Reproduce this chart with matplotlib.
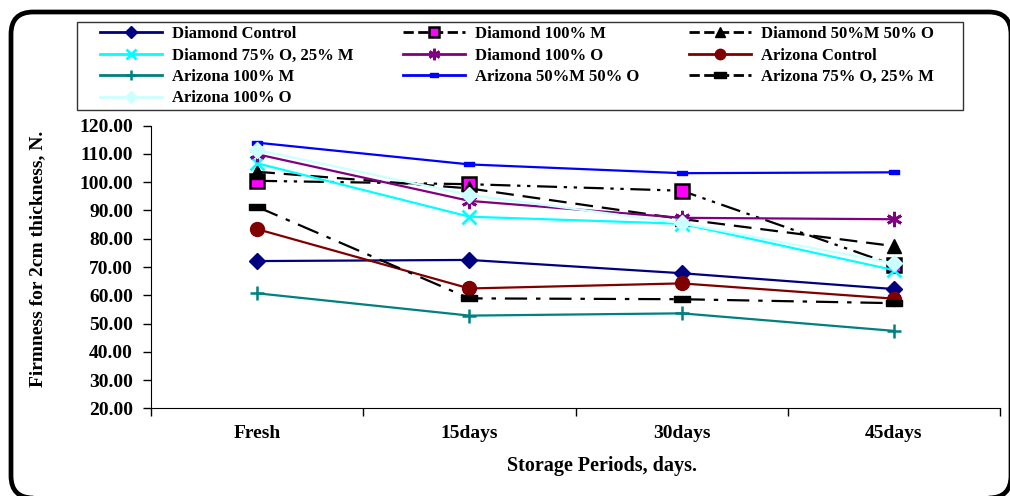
import matplotlib
matplotlib.use("Agg")
import matplotlib.pyplot as plt
from matplotlib.patches import FancyBboxPatch, Rectangle
from matplotlib.lines import Line2D

plt.rcParams['font.family'] = ['Liberation Serif', 'DejaVu Serif']
plt.rcParams['font.weight'] = 'bold'

periods = ['Fresh', '15days', '30days', '45days']
y_ticks = [20, 30, 40, 50, 60, 70, 80, 90, 100, 110, 120]

diamond_control = [72.1, 72.5, 67.8, 62.2]
diamond_100m = [100.5, 99.3, 97.0, 70.7]
diamond_50m_50o = [103.7, 97.8, 87.0, 77.4]
diamond_75o_25m = [106.7, 87.8, 85.3, 68.9]
diamond_100o = [109.9, 93.4, 87.4, 86.9]
arizona_control = [83.4, 62.4, 64.2, 58.8]
arizona_100m = [60.7, 52.8, 53.6, 47.4]
arizona_50m_50o = [114.0, 106.3, 103.2, 103.5]
arizona_75o_25m = [91.3, 58.9, 58.6, 57.2]
arizona_100o = [111.4, 95.5, 85.5, 71.3]

dash_marker = [(-1, -0.45), (1, -0.45), (1, 0.45), (-1, 0.45), (-1, -0.45)]

W, H = 1010, 496
fig = plt.figure(figsize=(W / 100, H / 100), dpi=100)

# rounded outer frame like the office chart area
frame = FancyBboxPatch((11 / W, 1 - 498 / H), (1000 / W), (486 / H),
                       boxstyle="round,pad=0,rounding_size=0.022",
                       transform=fig.transFigure, facecolor='none',
                       edgecolor='black', linewidth=3.4, clip_on=False,
                       mutation_aspect=W / H)
fig.patches.append(frame)

ax = fig.add_axes([151 / W, 1 - 408.3 / H, (1000 - 151) / W, (408.3 - 125.7) / H])
x = list(range(len(periods)))

series = [
    ('Diamond Control', diamond_control, dict(color='#000080', ls='-', marker='D', ms=8, mfc='#000080', mec='#000080')),
    ('Diamond 100% M', diamond_100m, dict(color='black', ls=(0, (9, 3, 1.5, 3, 1.5, 3)), marker='s', ms=10, mfc='#FF00FF', mec='black', mew=1.8)),
    ('Diamond 50%M 50% O', diamond_50m_50o, dict(color='black', ls=(0, (8, 4)), marker='^', ms=10, mfc='black', mec='black')),
    ('Diamond 75% O, 25% M', diamond_75o_25m, dict(color='#00FFFF', ls='-', marker='x', ms=10, mec='#00FFFF', mew=2)),
    ('Diamond 100% O', diamond_100o, dict(color='#800080', ls='-', marker=(6, 2, 0), ms=11, mec='#800080', mew=2)),
    ('Arizona Control', arizona_control, dict(color='#800000', ls='-', marker='o', ms=10, mfc='#800000', mec='#800000')),
    ('Arizona 100% M', arizona_100m, dict(color='#008080', ls='-', marker='+', ms=10, mec='#008080', mew=1.8)),
    ('Arizona 50%M 50% O', arizona_50m_50o, dict(color='#0000FF', ls='-', marker=dash_marker, ms=7, mfc='#0000FF', mec='#0000FF')),
    ('Arizona 75% O, 25% M', arizona_75o_25m, dict(color='black', ls=(0, (10, 4, 2, 4)), marker=dash_marker, ms=11, mfc='black', mec='black')),
    ('Arizona 100% O', arizona_100o, dict(color='#CCFFFF', ls='-', marker='D', ms=8, mfc='#CCFFFF', mec='#CCFFFF')),
]

handles = {}
for label, vals, style in series:
    line, = ax.plot(x, vals, lw=1.6, label=label, clip_on=False, **style)
    handles[label] = line

ax.set_xlim(-0.5, 3.5)
ax.set_ylim(20, 120)
ax.set_yticks(y_ticks)
ax.set_yticklabels(['{:.2f}'.format(v) for v in y_ticks])
ax.set_xticks(x)
ax.set_xticklabels(periods)
ax.set_xticks([-0.5, 0.5, 1.5, 2.5, 3.5], minor=True)
ax.tick_params(axis='x', which='major', length=0, pad=12, labelsize=14)
ax.tick_params(axis='x', which='minor', length=6, direction='out', width=1)
ax.tick_params(axis='y', length=6, direction='out', width=1, pad=7, labelsize=14)
for lab in ax.get_xticklabels() + ax.get_yticklabels():
    lab.set_fontweight('bold')
ax.spines['top'].set_visible(False)
ax.spines['right'].set_visible(False)

fig.text(602 / W, 1 - 466 / H, 'Storage Periods, days.', ha='center', va='center',
         fontsize=14.5, fontweight='bold')
fig.text(38 / W, 1 - 259 / H, 'Firmness for 2cm thickness, N.', ha='center', va='center',
         rotation=90, fontsize=14, fontweight='bold')

# legend box drawn separately so the entries can sit indented inside it
fig.patches.append(Rectangle((77 / W, 1 - 110 / H), (963 - 77) / W, (110 - 22) / H,
                             transform=fig.transFigure, facecolor='white',
                             edgecolor='#333333', linewidth=1.0))

# matplotlib fills legend columns first, so reorder to read row by row
order = ['Diamond Control', 'Diamond 75% O, 25% M', 'Arizona 100% M', 'Arizona 100% O',
         'Diamond 100% M', 'Diamond 100% O', 'Arizona 50%M 50% O',
         'Diamond 50%M 50% O', 'Arizona Control', 'Arizona 75% O, 25% M']
leg_handles = []
for name in order:
    h = handles[name]
    leg_handles.append(Line2D([], [], color=h.get_color(), ls=h.get_linestyle(), lw=2,
                              marker=h.get_marker(), ms=h.get_markersize() * 0.75,
                              mfc=h.get_markerfacecolor(), mec=h.get_markeredgecolor(),
                              mew=h.get_markeredgewidth()))
leg = fig.legend(leg_handles, order, ncol=3, loc='upper left',
                 bbox_to_anchor=(100 / W, 1 - 26 / H),
                 frameon=False, borderaxespad=0, borderpad=0,
                 handlelength=3.7, handletextpad=0.6, columnspacing=3.0,
                 labelspacing=0.33,
                 prop={'weight': 'bold', 'size': 12})

fig.savefig('out.png', dpi=100)
